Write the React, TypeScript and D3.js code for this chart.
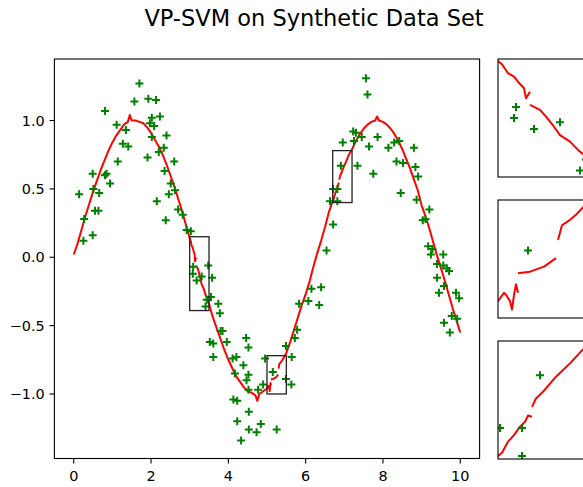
import React from "react";
import * as d3 from "d3";

// fitted curve (null = break between cells)
const lineX = [
  0.0, 0.1, 0.2, 0.3, 0.4, 0.5, 0.6, 0.7, 0.8, 0.9, 1.0, 1.1, 1.2, 1.3, 1.4, 1.45, 1.5, 1.6, 1.7, 1.8, 1.9,
  2.0, 2.1, 2.2, 2.3, 2.4, 2.5, 2.6, 2.7, 2.8, 2.9, 3.0, 3.02, 3.05, 3.08, 3.1, 3.13, 3.14, 3.16, 3.16,
  3.16, 3.21, 3.24, 3.28, 3.31, 3.36, 3.4, 3.43, 3.5, 3.6, 3.7, 3.8, 3.9, 4.0, 4.1, 4.2, 4.3, 4.4, 4.5,
  4.6, 4.7, 4.75, 4.8, 4.9, 5.0, 5.03, 5.04, 5.06, 5.07, 5.08, 5.09, 5.1, 5.1,
  5.1, 5.16, 5.23, 5.29, 5.29,
  5.3, 5.32, 5.36, 5.39, 5.42, 5.5, 5.6, 5.7, 5.8, 5.9, 6.0, 6.1, 6.2, 6.3, 6.4, 6.5, 6.6, 6.7, 6.72,
  6.75, 6.78, 6.81, 6.835, 6.85, 6.87, 6.87,
  6.87, 6.89, 6.93, 6.99, 7.06, 7.12, 7.2, 7.3, 7.4, 7.5, 7.6, 7.7, 7.8, 7.85, 7.9, 8.0, 8.1, 8.2, 8.3,
  8.4, 8.5, 8.6, 8.7, 8.8, 8.9, 9.0, 9.1, 9.2, 9.3, 9.4, 9.5, 9.6, 9.7, 9.8, 9.9, 10.0,
];
const lineY: (number | null)[] = [
  0.02, 0.1, 0.2, 0.3, 0.39, 0.48, 0.56, 0.64, 0.71, 0.78, 0.84, 0.89, 0.93, 0.97, 0.99, 1.04, 1.0, 1.0, 0.99, 0.98, 0.95,
  0.91, 0.86, 0.81, 0.75, 0.68, 0.6, 0.52, 0.43, 0.34, 0.24, 0.14, 0.126, 0.085, 0.069, 0.046, 0.016, -0.03, 0.0, null,
  -0.06, -0.083, -0.114, -0.16, -0.198, -0.228, -0.266, -0.289, -0.34, -0.44, -0.52, -0.6, -0.68, -0.75, -0.81, -0.87, -0.91, -0.95, -0.98,
  -0.99, -1.01, -1.05, -1.0, -0.98, -0.96, -0.94, -0.945, -0.96, -0.98, -0.945, -0.92, -0.94, null,
  -0.894, -0.89, -0.878, -0.858, null,
  -0.815, -0.78, -0.767, -0.755, -0.74, -0.7, -0.62, -0.53, -0.44, -0.35, -0.27, -0.18, -0.07, 0.03, 0.12, 0.22, 0.33, 0.41, 0.42,
  0.456, 0.477, 0.504, 0.52, 0.54, 0.536, null,
  0.568, 0.595, 0.62, 0.665, 0.708, 0.75, 0.79, 0.85, 0.9, 0.94, 0.97, 0.99, 1.0, 1.03, 1.0, 0.99, 0.97, 0.94, 0.9,
  0.85, 0.79, 0.72, 0.65, 0.57, 0.49, 0.38, 0.3, 0.21, 0.11, 0.01, -0.08, -0.17, -0.27, -0.37, -0.46, -0.55,
];

// noisy samples
const ptX = [
  1.7, 0.81, 1.57, 1.93, 2.13, 1.11, 1.35, 2.02, 2.23, 1.97, 2.08, 2.4, 2.02, 2.33, 2.2, 1.27, 1.41, 1.91, 2.6, 1.14,
  0.49, 0.85, 0.81, 0.94, 2.35, 2.51, 0.51, 0.66, 0.14, 2.46, 2.62, 2.15, 0.55, 0.64, 2.7, 0.27, 2.82, 2.38, 0.49, 0.25,
  3.03, 2.92, 3.48, 3.09, 3.08, 3.31, 3.18, 3.58, 3.55, 3.44, 3.41, 3.74, 3.78, 3.85, 3.8, 3.96, 3.52, 3.61, 3.61, 4.46,
  4.52, 4.11, 4.21, 4.39, 4.17, 4.52, 4.47, 4.52, 4.77, 4.95, 4.13, 4.23, 4.53, 4.23, 4.84, 4.53, 4.73, 4.33, 6.54, 5.15,
  4.9, 5.49, 5.63, 5.49, 5.64, 5.25, 5.78, 5.72, 5.83, 6.07, 6.15, 6.4, 6.35, 9.24, 9.56, 9.4, 9.56, 9.65, 9.71, 9.4,
  9.58, 9.45, 9.89, 9.97, 9.78, 9.92, 9.58, 9.73, 7.56, 7.6, 7.23, 7.3, 7.45, 7.86, 6.96, 7.25, 7.64, 8.14, 8.29, 8.42,
  8.8, 8.35, 8.52, 8.84, 8.91, 6.91, 7.34, 7.75, 8.46, 6.71, 6.82, 6.63, 6.82, 8.87, 9.2, 9.03, 9.1, 6.71, 9.17, 9.28,
];
const ptY = [
  1.27, 1.07, 1.14, 1.16, 1.15, 0.97, 0.93, 1.02, 1.03, 0.98, 0.96, 0.89, 0.88, 0.8, 0.77, 0.83, 0.81, 0.73, 0.7, 0.7,
  0.61, 0.61, 0.6, 0.54, 0.63, 0.54, 0.5, 0.47, 0.46, 0.46, 0.49, 0.41, 0.34, 0.34, 0.35, 0.28, 0.31, 0.27, 0.16, 0.12,
  0.19, 0.2, -0.06, -0.07, -0.12, -0.14, -0.17, -0.15, -0.29, -0.31, -0.36, -0.34, -0.41, -0.54, -0.54, -0.62, -0.62, -0.63, -0.73, -0.59,
  -0.66, -0.74, -0.73, -0.79, -0.85, -0.86, -0.9, -0.97, -0.97, -0.74, -1.04, -1.05, -1.13, -1.2, -1.22, -1.26, -1.28, -1.34, 0.05, -0.84,
  -0.93, -0.89, -0.93, -0.65, -0.73, -1.26, -0.53, -0.59, -0.34, -0.32, -0.23, -0.22, -0.35, 0.02, 0.02, -0.05, -0.06, -0.08, -0.1, -0.15,
  -0.21, -0.26, -0.26, -0.3, -0.43, -0.45, -0.48, -0.55, 1.31, 1.19, 0.92, 0.91, 0.88, 0.88, 0.84, 0.85, 0.81, 0.8, 0.84, 0.85,
  0.8, 0.7, 0.69, 0.66, 0.59, 0.67, 0.67, 0.61, 0.47, 0.5, 0.5, 0.41, 0.41, 0.42, 0.35, 0.27, 0.28, 0.24, 0.08, 0.06,
];

// zoom windows (main-axes rectangles and the insets on the right)
const boxX0 = [3.0, 5.0, 6.7];
const boxX1 = [3.5, 5.5, 7.2];
const boxY0 = [-0.39, -1.0, 0.4];
const boxY1 = [0.15, -0.72, 0.78];

const xTicks = [0, 2, 4, 6, 8, 10];
const yTicks = [-1.0, -0.5, 0.0, 0.5, 1.0];

const W = 583;
const H = 487;
const FONT = "DejaVu Sans";
const plus = "M-4,0H4M0,-4V4";

const main = { left: 54.4, right: 479.6, top: 59, bottom: 458.5 };
const inset = { left: 498, width: 100, height: 118, tops: [59, 200, 341] };

const fmtY = (v: number) => d3.format(".1f")(v).replace("-", "\u2212");

function Curve({ sx, sy }: { sx: d3.ScaleLinear<number, number>; sy: d3.ScaleLinear<number, number> }) {
  const idx = d3.range(lineX.length);
  const gen = d3
    .line<number>()
    .defined((i) => lineY[i] !== null)
    .x((i) => sx(lineX[i]))
    .y((i) => sy(lineY[i] as number));
  return <path d={gen(idx) || ""} fill="none" stroke="#ff0000" strokeWidth={2} strokeLinejoin="round" />;
}

function Points({ sx, sy }: { sx: d3.ScaleLinear<number, number>; sy: d3.ScaleLinear<number, number> }) {
  return (
    <g stroke="#008000" strokeWidth={2}>
      {ptX.map((v, i) => (
        <path key={i} d={plus} transform={`translate(${sx(v)},${sy(ptY[i])})`} />
      ))}
    </g>
  );
}

export default function App() {
  const x = d3.scaleLinear().domain([-0.5, 10.5]).range([main.left, main.right]);
  const y = d3.scaleLinear().domain([-1.472, 1.45]).range([main.bottom, main.top]);

  return (
    <svg width={W} height={H} style={{ position: "absolute", left: 0, top: 0, background: "#fff" }} fontFamily={FONT}>
      <defs>
        <clipPath id="mainclip">
          <rect x={main.left} y={main.top} width={main.right - main.left} height={main.bottom - main.top} />
        </clipPath>
        {inset.tops.map((t, i) => (
          <clipPath id={`inclip${i}`} key={i}>
            <rect x={0} y={0} width={inset.width} height={inset.height} />
          </clipPath>
        ))}
      </defs>

      <text x={314} y={25.5} textAnchor="middle" fontSize={22.5}>
        VP-SVM on Synthetic Data Set
      </text>

      {/* main axes */}
      <g clipPath="url(#mainclip)">
        <Curve sx={x} sy={y} />
        <Points sx={x} sy={y} />
        {boxX0.map((b, i) => (
          <rect
            key={i}
            x={x(b)}
            y={y(boxY1[i])}
            width={x(boxX1[i]) - x(b)}
            height={y(boxY0[i]) - y(boxY1[i])}
            fill="none"
            stroke="#222"
            strokeWidth={1.3}
          />
        ))}
      </g>
      <rect
        x={main.left}
        y={main.top}
        width={main.right - main.left}
        height={main.bottom - main.top}
        fill="none"
        stroke="#000"
        strokeWidth={1.1}
      />
      {xTicks.map((t) => (
        <g key={t} transform={`translate(${x(t)},${main.bottom})`}>
          <line y2={4.9} stroke="#000" strokeWidth={1.1} />
          <text y={22.7} textAnchor="middle" fontSize={14.4}>
            {t}
          </text>
        </g>
      ))}
      {yTicks.map((t) => (
        <g key={t} transform={`translate(${main.left},${y(t)})`}>
          <line x2={-4.9} stroke="#000" strokeWidth={1.1} />
          <text x={-9.7} y={5.2} textAnchor="end" fontSize={14.4}>
            {fmtY(t)}
          </text>
        </g>
      ))}

      {/* zoomed insets */}
      {inset.tops.map((top, i) => {
        const ix = d3.scaleLinear().domain([boxX0[i], boxX1[i]]).range([0, inset.width]);
        const iy = d3.scaleLinear().domain([boxY0[i], boxY1[i]]).range([inset.height, 0]);
        return (
          <g key={i} transform={`translate(${inset.left},${top})`}>
            <g clipPath={`url(#inclip${i})`}>
              <Curve sx={ix} sy={iy} />
              <Points sx={ix} sy={iy} />
            </g>
            <rect width={inset.width} height={inset.height} fill="none" stroke="#000" strokeWidth={1.1} />
          </g>
        );
      })}
    </svg>
  );
}
